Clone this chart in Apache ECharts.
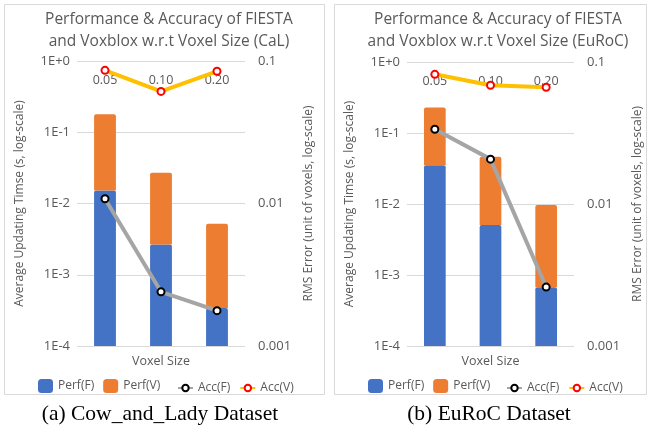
<!DOCTYPE html>
<html><head><meta charset="utf-8">
<script src="https://cdn.jsdelivr.net/npm/echarts@6/dist/echarts.min.js"></script>
<style>html,body{margin:0;padding:0;background:#fff}#c{width:649px;height:432px}</style>
</head><body><div id="c"></div>
<script>
const categories = ['0.05', '0.10', '0.20'];
const calPerfF = [0.0152, 0.00265, 0.000342];
const calPerfV = [0.164, 0.0244, 0.00484];
const calAccF = [0.0108, 0.0024, 0.00177];
const calAccV = [0.086, 0.0612, 0.0847];
const eurocPerfF = [0.0351, 0.00507, 0.00067];
const eurocPerfV = [0.194, 0.0413, 0.0090];
const eurocAccF = [0.0336, 0.0207, 0.0026];
const eurocAccV = [0.0819, 0.0686, 0.0664];
const leftTicks = ['1E-4', '1E-3', '1E-2', '1E-1', '1E+0'];
const rightTicks = ['0.001', '0.01', '0.1'];

const GREY = '#595959';
const FONT = 'Open Sans';
const chart = echarts.init(document.getElementById('c'), null, {renderer: 'canvas'});

function barRender(params, api) {
  const cat = api.value(0);
  const lo = api.value(1), hi = api.value(2);
  const p0 = api.coord([cat, lo]);
  const p1 = api.coord([cat, hi]);
  const bw = api.size([1, 1], [cat, 0.01])[0] * 0.39;
  return {
    type: 'rect',
    shape: {x: p0[0] - bw / 2, y: p1[1], width: bw, height: p0[1] - p1[1], r: [2, 2, 0, 0]},
    style: api.style()
  };
}

function makeAxes(gi) {
  const xa = [
    {gridIndex: gi, type: 'category', data: categories, position: 'top',
     axisLine: {show: false}, axisTick: {show: false},
     axisLabel: {inside: true, margin: 13, color: GREY, fontSize: 12.5, fontFamily: FONT}},
    {gridIndex: gi, type: 'category', data: categories, position: 'bottom',
     axisLine: {show: false}, axisTick: {show: false}, axisLabel: {show: false},
     name: 'Voxel Size', nameLocation: 'middle', nameGap: 9,
     nameTextStyle: {color: GREY, fontSize: 12.5, fontFamily: FONT}}
  ];
  const ya = [
    {gridIndex: gi, type: 'log', logBase: 10, min: 1e-4, max: 1, position: 'left',
     axisLine: {show: false}, axisTick: {show: false},
     splitLine: {show: true, lineStyle: {color: '#d9d9d9', width: 1}},
     axisLabel: {margin: 7, color: GREY, fontSize: 13, fontFamily: FONT,
       formatter: v => leftTicks[Math.round(Math.log10(v)) + 4]},
     name: 'Average Updating Timse (s, log-scale)', nameLocation: 'middle', nameGap: 51,
     nameTextStyle: {color: GREY, fontSize: 12, fontFamily: FONT}},
    {gridIndex: gi, type: 'log', logBase: 10, min: 0.001, max: 0.1, position: 'right',
     axisLine: {show: false}, axisTick: {show: false}, splitLine: {show: false},
     axisLabel: {margin: 13, color: GREY, fontSize: 13, fontFamily: FONT,
       formatter: v => rightTicks[Math.round(Math.log10(v)) + 3]},
     name: 'RMS Error (unit of voxels, log-scale)', nameLocation: 'middle', nameGap: 58,
     nameTextStyle: {color: GREY, fontSize: 12, fontFamily: FONT}}
  ];
  return {xa, ya};
}

function makeSeries(gi, perfF, perfV, accF, accV) {
  const xi = gi * 2, yi = gi * 2;
  return [
    {name: 'Perf(F)', type: 'custom', xAxisIndex: xi, yAxisIndex: yi, renderItem: barRender,
     itemStyle: {color: '#4472C4'}, encode: {x: 0, y: [1, 2]},
     data: categories.map((c, i) => [i, 1e-4, perfF[i]])},
    {name: 'Perf(V)', type: 'custom', xAxisIndex: xi, yAxisIndex: yi, renderItem: barRender,
     itemStyle: {color: '#ED7D31'}, encode: {x: 0, y: [1, 2]},
     data: categories.map((c, i) => [i, perfF[i], perfF[i] + perfV[i]])},
    {name: 'Acc(F)', type: 'line', xAxisIndex: xi, yAxisIndex: yi + 1, z: 5, data: accF,
     symbol: 'circle', symbolSize: 7, showAllSymbol: true,
     lineStyle: {color: '#A5A5A5', width: 4},
     itemStyle: {color: '#ffffff', borderColor: '#000000', borderWidth: 2}},
    {name: 'Acc(V)', type: 'line', xAxisIndex: xi, yAxisIndex: yi + 1, z: 5, data: accV,
     symbol: 'circle', symbolSize: 7, showAllSymbol: true,
     lineStyle: {color: '#FFC000', width: 4},
     itemStyle: {color: '#ffffff', borderColor: '#FF0000', borderWidth: 2}}
  ];
}

const a0 = makeAxes(0), a1 = makeAxes(1);
const legendText = {color: GREY, fontSize: 12, fontFamily: FONT};
function barLegend(left) {
  return {data: [{name: 'Perf(F)', icon: 'roundRect'}, {name: 'Perf(V)', icon: 'roundRect'}],
    left: left, top: 374, itemWidth: 15, itemHeight: 14, itemGap: 9, textStyle: legendText};
}
function lineLegend(left) {
  return {data: ['Acc(F)', 'Acc(V)'], left: left, top: 377, itemWidth: 15, itemHeight: 8, itemGap: 9,
    textStyle: legendText};
}

const option = {
  backgroundColor: '#ffffff',
  animation: false,
  title: [
    {text: 'Performance & Accuracy of FIESTA\nand Voxblox w.r.t Voxel Size (CaL)', left: 164, top: 4, textAlign: 'center',
     textStyle: {color: GREY, fontSize: 15.5, fontWeight: 'normal', fontFamily: FONT, lineHeight: 22}},
    {text: 'Performance & Accuracy of FIESTA\nand Voxblox w.r.t Voxel Size (EuRoC)', left: 493, top: 4, textAlign: 'center',
     textStyle: {color: GREY, fontSize: 15.5, fontWeight: 'normal', fontFamily: FONT, lineHeight: 22}}
  ],
  legend: [barLegend(33), lineLegend(172), barLegend(363), lineLegend(501)],
  grid: [
    {left: 77, top: 61, width: 168, height: 285},
    {left: 407, top: 62, width: 167, height: 284}
  ],
  xAxis: a0.xa.concat(a1.xa),
  yAxis: a0.ya.concat(a1.ya),
  series: makeSeries(0, calPerfF, calPerfV, calAccF, calAccV)
    .concat(makeSeries(1, eurocPerfF, eurocPerfV, eurocAccF, eurocAccV)),
  graphic: [
    {type: 'rect', z: -10, shape: {x: 4.5, y: 4.5, width: 320, height: 390}, style: {fill: 'none', stroke: '#d9d9d9', lineWidth: 1}},
    {type: 'rect', z: -10, shape: {x: 334.5, y: 4.5, width: 312, height: 390}, style: {fill: 'none', stroke: '#d9d9d9', lineWidth: 1}},
    {type: 'text', style: {text: '(a) Cow_and_Lady Dataset', x: 160, y: 414, textAlign: 'center', textVerticalAlign: 'middle',
      fill: '#000', fontSize: 21.5, fontFamily: 'Liberation Serif'}},
    {type: 'text', style: {text: '(b) EuRoC Dataset', x: 489, y: 414, textAlign: 'center', textVerticalAlign: 'middle',
      fill: '#000', fontSize: 21.5, fontFamily: 'Liberation Serif'}}
  ]
};
chart.setOption(option);
</script>
</body></html>
